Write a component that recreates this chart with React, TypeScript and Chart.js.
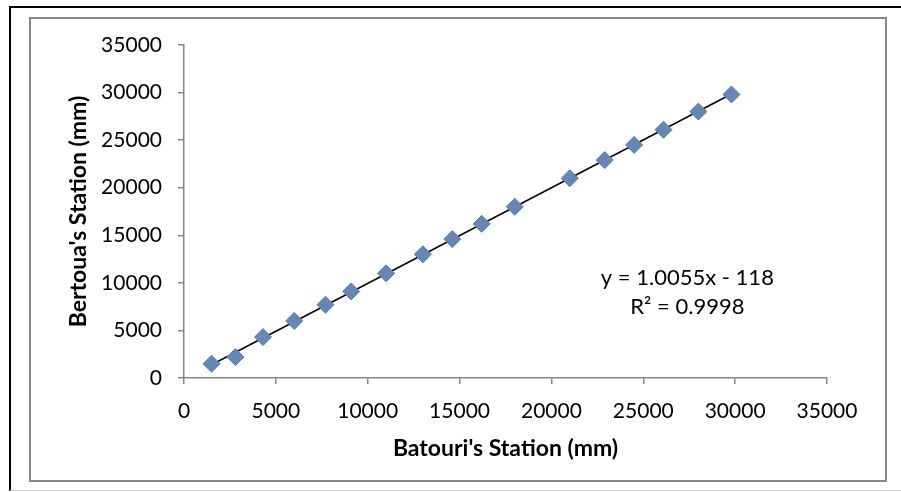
import React, { useEffect, useRef } from "react";
import { Chart, registerables } from "chart.js";

Chart.register(...registerables);

// Data
const batouri = [1500, 2800, 4300, 6000, 7700, 9100, 11000, 13000, 14600, 16200, 18000, 21000, 22900, 24500, 26100, 28000, 29800];
const bertoua = [1500, 2200, 4300, 6000, 7700, 9100, 11000, 13000, 14600, 16200, 18000, 21000, 22900, 24500, 26100, 28000, 29800];
const slope = 1.0055;
const intercept = -118;
const equationLines = ["y = 1.0055x - 118", "R² = 0.9998"];
const equationAnchor = { x: 27400, y1: 10500, y2: 7500 };
const axisMin = 0;
const axisMax = 35000;
const axisStep = 5000;
const xTitle = "Batouri's Station (mm)";
const yTitle = "Bertoua's Station (mm)";

const FONT = "Lato";
const AXIS_GREY = "#868686";

export default function App() {
  const canvasRef = useRef<HTMLCanvasElement | null>(null);

  useEffect(() => {
    const canvas = canvasRef.current;
    if (!canvas) return;
    const points = batouri.map((x, i) => ({ x, y: bertoua[i] }));
    const xs = [Math.min(...batouri), Math.max(...batouri)];
    const trend = xs.map((x) => ({ x, y: slope * x + intercept }));

    const equationPlugin = {
      id: "equation",
      afterDatasetsDraw(chart: any) {
        const { ctx, scales } = chart;
        ctx.save();
        ctx.fillStyle = "#000";
        ctx.font = `22px ${FONT}`;
        ctx.textAlign = "center";
        ctx.textBaseline = "middle";
        const px = scales.x.getPixelForValue(equationAnchor.x);
        ctx.fillText(equationLines[0], px, scales.y.getPixelForValue(equationAnchor.y1));
        ctx.fillText(equationLines[1], px, scales.y.getPixelForValue(equationAnchor.y2));
        ctx.restore();
      },
    };

    const chart = new Chart(canvas, {
      type: "scatter",
      data: {
        datasets: [
          {
            type: "line",
            data: trend,
            borderColor: "#000",
            borderWidth: 1.5,
            pointRadius: 0,
            fill: false,
            order: 2,
          } as any,
          {
            data: points,
            backgroundColor: "#6687B4",
            borderColor: "#5A7BAA",
            borderWidth: 1,
            pointStyle: "rectRot",
            pointRadius: 8.5,
            order: 1,
          },
        ],
      },
      options: {
        animation: false,
        responsive: false,
        layout: { padding: { left: 65, right: 74, top: 45, bottom: 30 } },
        plugins: { legend: { display: false }, tooltip: { enabled: false } },
        scales: {
          x: {
            type: "linear",
            min: axisMin,
            max: axisMax,
            ticks: {
              stepSize: axisStep,
              color: "#000",
              font: { family: FONT, size: 21 },
              padding: 15,
              maxRotation: 0,
              callback: (v: any) => String(v),
            },
            grid: { drawOnChartArea: false, tickLength: 6, color: AXIS_GREY, lineWidth: 1.5 },
            border: { color: AXIS_GREY, width: 1.5 },
            title: {
              display: true,
              text: xTitle,
              color: "#000",
              font: { family: FONT, size: 23, weight: "bold" },
              padding: 0,
            },
            afterFit: (scale: any) => {
              scale.height = 84;
            },
          },
          y: {
            type: "linear",
            min: axisMin,
            max: axisMax,
            ticks: {
              stepSize: axisStep,
              color: "#000",
              font: { family: FONT, size: 21 },
              padding: 16,
              callback: (v: any) => String(v),
            },
            grid: { drawOnChartArea: false, tickLength: 6, color: AXIS_GREY, lineWidth: 1.5 },
            border: { color: AXIS_GREY, width: 1.5 },
            title: {
              display: true,
              text: yTitle,
              color: "#000",
              font: { family: FONT, size: 23, weight: "bold" },
              padding: 0,
            },
            afterFit: (scale: any) => {
              scale.width = 119;
            },
          },
        },
      },
      plugins: [equationPlugin],
    });
    return () => chart.destroy();
  }, []);

  return (
    <div style={{ position: "fixed", left: 0, top: 0, width: 901, height: 492, background: "#fff", overflow: "hidden" }}>
      <div
        style={{
          position: "absolute",
          left: 9,
          top: 6,
          width: 920,
          height: 485,
          boxSizing: "border-box",
          borderTop: "2px solid #000",
          borderLeft: "2px solid #000",
          borderBottom: "1px solid #d0d0d0",
        }}
      />
      <div
        style={{
          position: "absolute",
          left: 29,
          top: 17,
          width: 858,
          height: 465,
          boxSizing: "border-box",
          border: "2px solid #898989",
        }}
      />
      <canvas ref={canvasRef} width={901} height={492} style={{ position: "absolute", left: 0, top: 0, width: 901, height: 492 }} />
    </div>
  );
}
